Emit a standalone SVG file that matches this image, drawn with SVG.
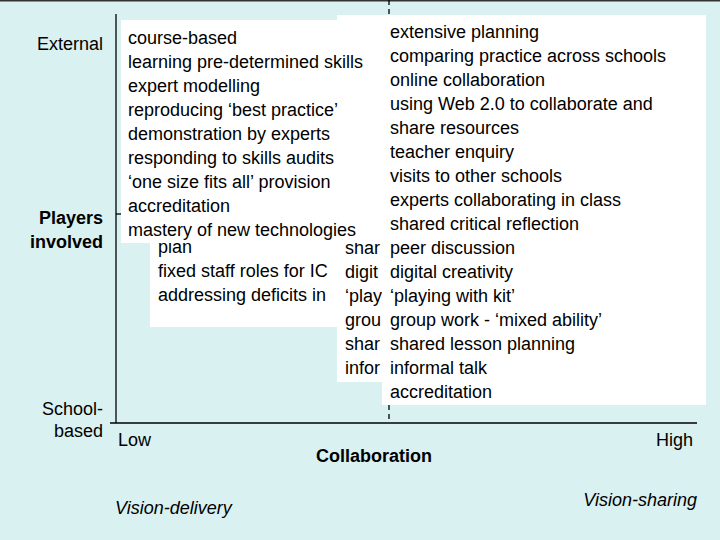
<svg xmlns="http://www.w3.org/2000/svg" width="720" height="540" viewBox="0 0 720 540">
<style>
text{font-family:"Liberation Sans",Arial,sans-serif;font-size:18px;fill:#000}
.b{font-weight:bold}
.i{font-style:italic}
.box{fill:#fff}
.ax{stroke:#000;stroke-width:1.3;fill:none}
</style>
<rect x="0" y="0" width="720" height="540" fill="#daf1f2"/>
<line x1="0" y1="0.5" x2="720" y2="0.5" stroke="#333" stroke-width="2"/>
<g id="connectors">
<line class="ax" x1="116" y1="14" x2="116" y2="423"/>
<line class="ax" x1="110" y1="423" x2="697" y2="423"/>
<line class="ax" x1="116" y1="214" x2="126" y2="214"/>
<line class="ax" x1="389" y1="0" x2="389" y2="423" stroke-dasharray="5,4"/>
</g>
<g id="axis-labels">
<text x="103" y="50" text-anchor="end">External</text>
<text x="103" y="224" text-anchor="end" class="b">Players</text>
<text x="103" y="248" text-anchor="end" class="b">involved</text>
<text x="103" y="415" text-anchor="end">School-</text>
<text x="103" y="437" text-anchor="end">based</text>
<text x="118" y="446">Low</text>
<text x="693" y="446" text-anchor="end">High</text>
<text x="374" y="462" text-anchor="middle" class="b">Collaboration</text>
<text x="115" y="514" class="i">Vision-delivery</text>
<text x="697" y="506" text-anchor="end" class="i">Vision-sharing</text>
</g>
<g id="box-b">
<rect class="box" x="150" y="236" width="200" height="91"/>
<text x="158" y="253">plan</text>
<text x="158" y="277">fixed staff roles for IC</text>
<text x="158" y="301">addressing deficits in</text>
</g>
<g id="box-mid">
<rect class="box" x="337" y="15" width="60" height="367"/>
<text x="345" y="254">shar</text>
<text x="345" y="278">digit</text>
<text x="345" y="302">‘play</text>
<text x="345" y="326">grou</text>
<text x="345" y="350">shar</text>
<text x="345" y="374">infor</text>
</g>
<g id="box-left">
<rect class="box" x="121" y="20" width="263" height="223"/>
<text x="128" y="44">course-based</text>
<text x="128" y="68">learning pre-determined skills</text>
<text x="128" y="92">expert modelling</text>
<text x="128" y="116">reproducing ‘best practice’</text>
<text x="128" y="140">demonstration by experts</text>
<text x="128" y="164">responding to skills audits</text>
<text x="128" y="188">‘one size fits all’ provision</text>
<text x="128" y="212">accreditation</text>
<text x="128" y="236">mastery of new technologies</text>
</g>
<g id="box-right">
<rect class="box" x="382" y="15" width="324" height="390"/>
<text x="390" y="38">extensive planning</text>
<text x="390" y="62">comparing practice across schools</text>
<text x="390" y="86">online collaboration</text>
<text x="390" y="110">using Web 2.0 to collaborate and</text>
<text x="390" y="134">share resources</text>
<text x="390" y="158">teacher enquiry</text>
<text x="390" y="182">visits to other schools</text>
<text x="390" y="206">experts collaborating in class</text>
<text x="390" y="230">shared critical reflection</text>
<text x="390" y="254">peer discussion</text>
<text x="390" y="278">digital creativity</text>
<text x="390" y="302">‘playing with kit’</text>
<text x="390" y="326">group work - ‘mixed ability’</text>
<text x="390" y="350">shared lesson planning</text>
<text x="390" y="374">informal talk</text>
<text x="390" y="398">accreditation</text>
</g>
</svg>
